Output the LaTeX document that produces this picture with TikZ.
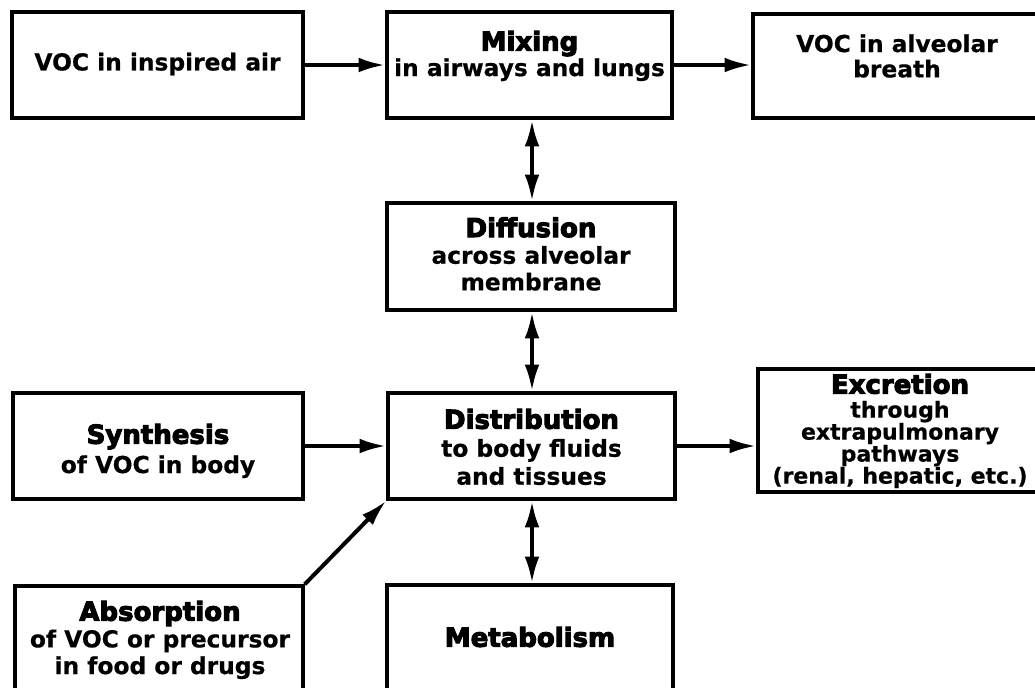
\documentclass[tikz,border=0pt]{standalone}
\usepackage{fontspec}
\setmainfont{DejaVu Sans}[BoldFeatures={FakeBold=0.6}]
\newfontfamily\headfont{DejaVu Sans}[BoldFeatures={FakeBold=4}]
\usetikzlibrary{arrows.meta,fit}

% heavy first line of a box
\newcommand\head[1]{{\headfont\fontsize{19.5}{20}\selectfont\bfseries #1}}

\tikzset{
  box/.style={draw, line width=2.5pt, rectangle, inner sep=0pt},
  txt/.style={align=center, inner sep=0pt,
              font=\fontsize{17.5}{#1}\selectfont\bfseries},
  txt/.default=20,
  smalltxt/.style={align=center, inner sep=0pt,
              font=\fontsize{16.5}{16.5}\selectfont\bfseries},
  oneway/.style={draw, line width=3pt, -{Latex[length=20pt,width=11pt]}},
  twoway/.style={draw, line width=3pt, {Latex[length=20pt,width=11pt]}-{Latex[length=20pt,width=11pt]}},
}

\begin{document}
\begin{tikzpicture}[x=0.75pt,y=-0.75pt]
  \useasboundingbox (0,0) rectangle (1035,687);
  \clip (0,0) rectangle (1035,687);

  % boxes
  \node[box, fit={(12,12) (303,118)}]    (inspired) {};
  \node[box, fit={(387,12) (672,118)}]   (mixing) {};
  \node[box, fit={(753,14) (1045,118)}]  (alveolar) {};
  \node[box, fit={(387,203) (675,310)}]  (diffusion) {};
  \node[box, fit={(13,393) (303,499)}]   (synthesis) {};
  \node[box, fit={(388,393) (675,499)}]  (distribution) {};
  \node[box, fit={(758,369) (1045,492)}] (excretion) {};
  \node[box, fit={(15,586) (303,692)}]   (absorption) {};
  \node[box, fit={(387,585) (673,692)}]  (metabolism) {};

  % texts
  \node[txt] (inspiredtxt) at (157.5,64) {VOC in inspired air};
  \node[txt=19] (mixingtxt) at (529.5,56) {\head{Mixing}\\in airways and lungs};
  \node[txt=19] (alveolartxt) at (897,56) {VOC in alveolar\\breath};
  \node[txt] (diffusiontxt) at (531,254) {\head{Diffusion}\\across alveolar\\membrane};
  \node[txt=22] (synthesistxt) at (158,451) {\head{Synthesis}\\of VOC in body};
  \node[txt=21] (distributiontxt) at (531.5,447) {\head{Distribution}\\to body fluids\\and tissues};
  \node[smalltxt] (excretiontxt) at (900,431) {\head{Excretion}\\[1.5pt]through\\extrapulmonary\\pathways\\(renal, hepatic, etc.)};
  \node[txt] (absorptiontxt) at (160,640) {\head{Absorption}\\of VOC or precursor\\in food or drugs};
  \node[txt] (metabolismtxt) at (530,637) {\head{Metabolism}};

  % connectors
  \coordinate (spine) at (532,0);
  \path[oneway] (inspired.east) -- (inspired.east -| mixing.west);
  \path[oneway] (mixing.east) -- (mixing.east -| alveolar.west);
  \path[twoway] (mixing.south -| spine) -- (diffusion.north -| spine);
  \path[twoway] (diffusion.south -| spine) -- (distribution.north -| spine);
  \path[oneway] (synthesis.east) -- (synthesis.east -| distribution.west);
  \path[oneway] (distribution.east) -- (distribution.east -| excretion.west);
  \path[twoway] (distribution.south -| spine) -- (metabolism.north -| spine);
  \path[oneway] (absorption.north east) -- (distribution.south west);
\end{tikzpicture}
\end{document}
